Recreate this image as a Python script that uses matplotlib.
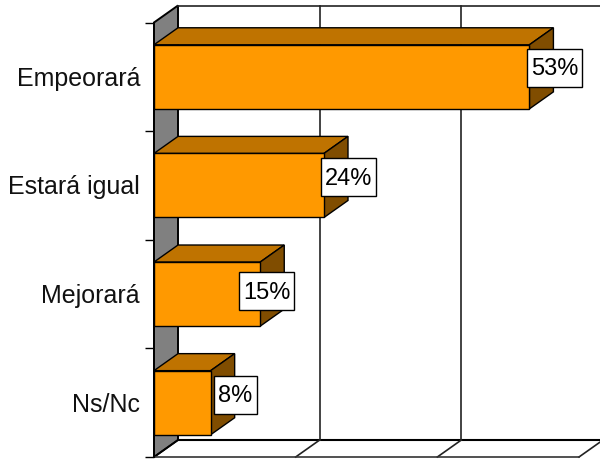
import matplotlib
matplotlib.use("Agg")
import matplotlib.pyplot as plt
from matplotlib.patches import Polygon, Rectangle

categories = ["Empeorará", "Estará igual", "Mejorará", "Ns/Nc"]
values = [53, 24, 15, 8]
grid_values = [20, 40, 60]

plt.rcParams["font.family"] = "Liberation Sans"

# pixel sizes of the plot
px_per_pct = 425 / 60
px_per_band = 434.5 / 4
depth_x = 24 / px_per_pct
depth_y = 17 / px_per_band

fig = plt.figure(figsize=(6, 4.59), dpi=100)
ax = fig.add_axes([154 / 600, 2 / 459, 425 / 600, 434.5 / 459])
ax.set_xlim(0, 60)
ax.set_ylim(3.5, -0.5)
ax.patch.set_alpha(0)

top = -0.5
bottom = 3.5

# left wall
ax.add_patch(Polygon([(0, top), (depth_x, top - depth_y), (depth_x, bottom - depth_y), (0, bottom)],
                     facecolor="#808080", edgecolor="black", lw=1.4, clip_on=False, zorder=1))
# back wall lines
ax.plot([depth_x, 70], [top - depth_y, top - depth_y], color="#222222", lw=1.2, clip_on=False, zorder=1)
ax.plot([depth_x, 70], [bottom - depth_y, bottom - depth_y], color="black", lw=1.5, clip_on=False, zorder=1)
for g in grid_values:
    ax.plot([g + depth_x, g + depth_x], [top - depth_y, bottom - depth_y], color="#222222", lw=1.2, clip_on=False, zorder=1)
    ax.plot([g, g + depth_x], [bottom, bottom - depth_y], color="#222222", lw=1.2, clip_on=False, zorder=1)
ax.plot([0, depth_x], [bottom, bottom - depth_y], color="black", lw=1.2, clip_on=False, zorder=1)

# bars
bar_h = 0.59
ax.barh(range(len(values)), values, height=bar_h, color="#FF9900", edgecolor="black", lw=1, zorder=4)
for i, v in enumerate(values):
    y0 = i - bar_h / 2
    y1 = i + bar_h / 2
    ax.add_patch(Polygon([(0, y0), (depth_x, y0 - depth_y), (v + depth_x, y0 - depth_y), (v, y0)],
                         facecolor="#BF7300", edgecolor="black", lw=1, clip_on=False, zorder=3))
    ax.add_patch(Polygon([(v, y0), (v + depth_x, y0 - depth_y), (v + depth_x, y1 - depth_y), (v, y1)],
                         facecolor="#804D00", edgecolor="black", lw=1, clip_on=False, zorder=3))

# value labels
label_dx = [25.5, 24.5, 6.5, 24.5]
label_dy = [-9, -8, -3, -8]
label_w = [55, 55, 55, 43]
for i, v in enumerate(values):
    cx = v + label_dx[i] / px_per_pct
    cy = i + label_dy[i] / px_per_band
    w = label_w[i] / px_per_pct
    h = 38 / px_per_band
    ax.add_patch(Rectangle((cx - w / 2, cy - h / 2), w, h, facecolor="white", edgecolor="black",
                           lw=1, clip_on=False, zorder=5))
    ax.text(cx, cy + 1.5 / px_per_band, f"{v}%", ha="center", va="center", fontsize=17, color="black", zorder=6)

# axes
for s in ["top", "right"]:
    ax.spines[s].set_visible(False)
ax.spines["left"].set_linewidth(1.4)
ax.spines["bottom"].set_linewidth(1.2)
ax.spines["bottom"].set_color("#333333")
ax.spines["left"].set_zorder(4)
ax.set_xticks([])
ax.set_yticks([-0.5, 0.5, 1.5, 2.5, 3.5])
ax.set_yticklabels([])
ax.tick_params(axis="y", length=6.5, width=1)

# category names sit on a common baseline offset from the bar centre
for i, c in enumerate(categories):
    ax.annotate(c, (0, i), xytext=(-10, -6.5), textcoords="offset points",
                ha="right", va="baseline", fontsize=18, color="#111111", annotation_clip=False)

fig.savefig("out.png", dpi=100)
